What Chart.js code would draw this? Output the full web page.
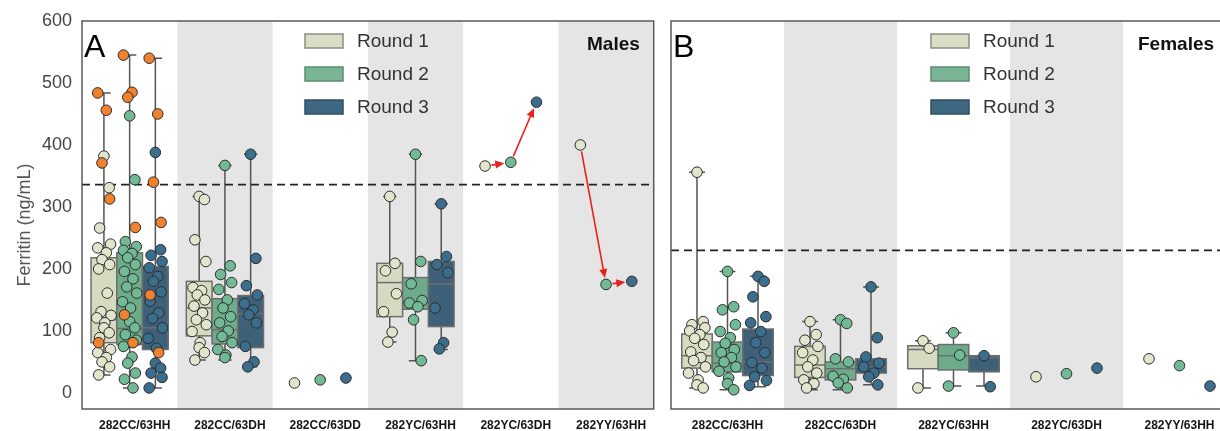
<!DOCTYPE html>
<html>
<head>
<meta charset="utf-8">
<title>Ferritin by HFE genotype and round</title>
<script src="https://cdn.jsdelivr.net/npm/chart.js@4.4.1/dist/chart.umd.min.js"></script>
<style>
  html, body { margin: 0; padding: 0; background: #fff; overflow: hidden; width: 1220px; height: 431px; }
  #wrapA { position: absolute; left: 0; top: 0; width: 660px; height: 431px; }
  #wrapB { position: absolute; left: 660px; top: 0; width: 600px; height: 431px; }
</style>
</head>
<body>
<div id="wrapA"><canvas id="chartA"></canvas></div>
<div id="wrapB"><canvas id="chartB"></canvas></div>
<script>
// ---------- data ----------
const maleGenotypes = ['282CC/63HH', '282CC/63DH', '282CC/63DD', '282YC/63HH', '282YC/63DH', '282YY/63HH'];
const femaleGenotypes = ['282CC/63HH', '282CC/63DH', '282YC/63HH', '282YC/63DH', '282YY/63HH'];
const roundNames = ['Round 1', 'Round 2', 'Round 3'];
const yTickValues = [0, 100, 200, 300, 400, 500, 600];
const maleCutoff = 336;
const femaleCutoff = 230;

// box summaries per genotype: [lower whisker, Q1, median, Q3, upper whisker]; null = no box
const maleBoxR1 = [[29, 81, 118, 218, 484], [53, 92, 137, 180, 317], null, [82, 123, 178, 209, 317], null, null];
const maleBoxR2 = [[8, 78, 104, 226, 545], [53, 79, 102, 152, 367], null, [52, 135, 146, 186, 385], null, null];
const maleBoxR3 = [[8, 70, 105, 204, 540], [42, 73, 128, 157, 385], null, [70, 107, 176, 212, 305], null, null];

const femaleBoxR1 = [[8, 40, 60, 95, 356], [5, 25, 45, 75, 115], [8, 39, 70, 76, 84], null, null];
const femaleBoxR2 = [[5, 34, 48, 82, 196], [5, 21, 39, 50, 118], [11, 37, 60, 78, 97], null, null];
const femaleBoxR3 = [[10, 28, 50, 103, 188], [13, 32, 42, 55, 171], [11, 34, 57, 60, 60], null, null];

// individual ferritin values (ng/mL) per genotype
const maleR1 = [
  [382, 331, 266, 240, 234, 226, 215, 207, 200, 161, 131, 125, 121, 113, 105, 97, 89, 70, 65, 57, 50, 42, 29],
  [317, 312, 247, 212, 170, 165, 158, 150, 140, 129, 118, 110, 99, 81, 73, 65, 53],
  [16],
  [317, 209, 197, 160, 131, 98, 82],
  [366],
  [400]
];
const maleR2 = [
  [447, 344, 244, 236, 230, 225, 218, 207, 196, 184, 171, 161, 147, 137, 115, 105, 94, 85, 75, 58, 48, 32, 22, 8],
  [367, 205, 191, 178, 167, 150, 137, 123, 113, 100, 91, 81, 70, 61, 57],
  [21],
  [385, 212, 176, 149, 145, 139, 118, 52],
  [372],
  [175]
];
const maleR3 = [
  [388, 231, 222, 212, 202, 188, 180, 163, 148, 129, 120, 105, 88, 72, 48, 40, 32, 25, 8],
  [385, 217, 173, 158, 144, 134, 126, 113, 75, 50, 42],
  [24],
  [305, 220, 207, 194, 137, 81, 71],
  [469],
  [180]
];
// participants flagged in the 282CC/63HH group
const maleFlaggedR1 = [[484, 456, 371, 313, 81], [], [], [], [], []];
const maleFlaggedR2 = [[545, 485, 477, 267, 126, 81], [], [], [], [], []];
const maleFlaggedR3 = [[540, 450, 340, 275, 158, 65], [], [], [], [], []];

const femaleR1 = [
  [356, 115, 110, 105, 100, 94, 88, 78, 66, 57, 52, 42, 32, 21, 13, 8],
  [115, 94, 85, 75, 65, 53, 42, 32, 21, 15, 8],
  [84, 72, 8],
  [26],
  [55]
];
const femaleR2 = [
  [196, 139, 134, 110, 99, 89, 80, 70, 65, 57, 50, 42, 35, 24, 15, 5],
  [118, 112, 55, 50, 27, 22, 16, 8],
  [97, 61, 11],
  [31],
  [44]
];
const femaleR3 = [
  [188, 180, 155, 123, 113, 99, 81, 65, 49, 40, 26, 20, 12],
  [171, 89, 58, 48, 42, 32, 26, 13],
  [60, 10],
  [40],
  [11]
];

// genotypes with a single participant, followed round to round
const maleTracked = [4, 5];
const femaleTracked = [];

// ---------- styling ----------
const FONT = '"Liberation Sans", Arial, Helvetica, sans-serif';
Chart.defaults.font.family = FONT;
const ROUND_OFFSET = [-0.27, 0, 0.27];
const BOX_WIDTH = 0.27;
const CAP_WIDTH = 0.14;
const POINT_FILL = ['#e1e5cb', '#72b995', '#3b6d8d'];
const BOX_FILL = ['#d6dac0', '#6dab8b', '#3e6179'];
const LEGEND_FILL = ['#dadec6', '#79b594', '#3e6782'];
const LEGEND_EDGE = ['#8c8e80', '#5a8c72', '#2f4e61'];
const FLAG_FILL = '#f0812e';
const SPREAD = [0, 0.055, -0.045, 0.07, -0.065, 0.025, -0.02, 0.06, -0.055, 0.035, -0.03, 0.075, -0.075, 0.01];

function jitteredPoints(groups, r, phase) {
  const out = [];
  groups.forEach((vals, i) => {
    vals.forEach((v, j) => {
      const dx = vals.length > 1 ? SPREAD[(j + phase) % SPREAD.length] : 0;
      out.push({ x: i + ROUND_OFFSET[r] + dx, y: v });
    });
  });
  return out;
}

function arrow(ctx, p0, p1, gap) {
  const dx = p1.x - p0.x, dy = p1.y - p0.y;
  const len = Math.hypot(dx, dy);
  const ux = dx / len, uy = dy / len;
  const sx = p0.x + ux * gap, sy = p0.y + uy * gap;
  const ex = p1.x - ux * gap, ey = p1.y - uy * gap;
  const head = 9, hw = 4;
  ctx.beginPath();
  ctx.moveTo(sx, sy);
  ctx.lineTo(ex - ux * head * 0.7, ey - uy * head * 0.7);
  ctx.stroke();
  ctx.beginPath();
  ctx.moveTo(ex, ey);
  ctx.lineTo(ex - ux * head - uy * hw, ey - uy * head + ux * hw);
  ctx.lineTo(ex - ux * head + uy * hw, ey - uy * head - ux * hw);
  ctx.closePath();
  ctx.fill();
}

function decorPlugin(cfg) {
  return {
    id: 'panelDecor',
    beforeDatasetsDraw(chart) {
      const { ctx, chartArea: a, scales: { x, y } } = chart;
      ctx.save();
      // alternate genotype bands
      ctx.fillStyle = '#e5e5e5';
      cfg.categories.forEach((c, i) => {
        if (i % 2 === 1) {
          const l = Math.max(x.getPixelForValue(i - 0.5), a.left);
          const r = Math.min(x.getPixelForValue(i + 0.5), a.right);
          ctx.fillRect(l, a.top, r - l, a.bottom - a.top);
        }
      });
      // box plots
      const half = (x.getPixelForValue(BOX_WIDTH) - x.getPixelForValue(0)) / 2;
      const cap = (x.getPixelForValue(CAP_WIDTH) - x.getPixelForValue(0)) / 2;
      cfg.boxes.forEach((roundBoxes, r) => {
        roundBoxes.forEach((b, i) => {
          if (!b) return;
          const [lo, q1, med, q3, hi] = b;
          const cx = x.getPixelForValue(i + ROUND_OFFSET[r]);
          ctx.strokeStyle = '#555';
          ctx.lineWidth = 1.5;
          ctx.beginPath();
          ctx.moveTo(cx, y.getPixelForValue(lo));
          ctx.lineTo(cx, y.getPixelForValue(hi));
          ctx.moveTo(cx - cap, y.getPixelForValue(lo));
          ctx.lineTo(cx + cap, y.getPixelForValue(lo));
          ctx.moveTo(cx - cap, y.getPixelForValue(hi));
          ctx.lineTo(cx + cap, y.getPixelForValue(hi));
          ctx.stroke();
          const top = y.getPixelForValue(q3), bot = y.getPixelForValue(q1);
          ctx.fillStyle = BOX_FILL[r];
          ctx.fillRect(cx - half, top, half * 2, bot - top);
          ctx.strokeStyle = '#6e6e6e';
          ctx.strokeRect(cx - half, top, half * 2, bot - top);
          ctx.beginPath();
          ctx.moveTo(cx - half, y.getPixelForValue(med));
          ctx.lineTo(cx + half, y.getPixelForValue(med));
          ctx.stroke();
        });
      });
      ctx.restore();
    },
    afterDatasetsDraw(chart) {
      const { ctx, chartArea: a, scales: { x, y } } = chart;
      ctx.save();
      // round-to-round arrows
      ctx.strokeStyle = '#e8211d';
      ctx.fillStyle = '#e8211d';
      ctx.lineWidth = 1.6;
      cfg.tracked.forEach(i => {
        const pts = cfg.rounds.map((groups, r) => ({
          x: x.getPixelForValue(i + ROUND_OFFSET[r]),
          y: y.getPixelForValue(groups[i][0])
        }));
        arrow(ctx, pts[0], pts[1], 6.5);
        arrow(ctx, pts[1], pts[2], 6.5);
      });
      // panel frame
      ctx.strokeStyle = '#5a5a5a';
      ctx.lineWidth = 1.5;
      ctx.strokeRect(a.left, a.top, a.right - a.left, a.bottom - a.top);
      // legend
      roundNames.forEach((name, r) => {
        const yc = cfg.legendY[r];
        ctx.fillStyle = LEGEND_FILL[r];
        ctx.fillRect(cfg.legendX, yc - 7, 38, 14);
        ctx.strokeStyle = LEGEND_EDGE[r];
        ctx.lineWidth = 1.5;
        ctx.strokeRect(cfg.legendX, yc - 7, 38, 14);
        ctx.fillStyle = '#333';
        ctx.font = '19px ' + FONT;
        ctx.textBaseline = 'middle';
        ctx.textAlign = 'left';
        ctx.fillText(name, cfg.legendX + 52, yc + 1);
      });
      // panel letter and sex label
      ctx.fillStyle = '#000';
      ctx.textBaseline = 'alphabetic';
      ctx.font = '32px ' + FONT;
      ctx.fillText(cfg.letter, cfg.letterX, 57);
      ctx.font = 'bold 19px ' + FONT;
      ctx.fillStyle = '#111';
      ctx.fillText(cfg.sex, cfg.sexX, 50);
      // y-axis title
      if (cfg.yTitle) {
        ctx.save();
        ctx.translate(25, 225);
        ctx.rotate(-Math.PI / 2);
        ctx.textAlign = 'center';
        ctx.textBaseline = 'middle';
        ctx.fillStyle = '#555';
        ctx.font = '18px ' + FONT;
        ctx.fillText(cfg.yTitle, 0, 0);
        ctx.restore();
      }
      ctx.restore();
    }
  };
}

function buildChart(canvasId, cfg) {
  const n = cfg.categories.length;
  const datasets = [];
  cfg.rounds.forEach((groups, r) => {
    datasets.push({
      type: 'scatter',
      data: jitteredPoints(groups, r, 0),
      backgroundColor: POINT_FILL[r],
      borderColor: '#2d2d2d',
      borderWidth: 1,
      pointRadius: 5.3,
      order: 3 - r
    });
  });
  cfg.flagged.forEach((groups, r) => {
    datasets.push({
      type: 'scatter',
      data: jitteredPoints(groups, r, 4),
      backgroundColor: FLAG_FILL,
      borderColor: '#2d2d2d',
      borderWidth: 1,
      pointRadius: 5.3,
      order: 0
    });
  });
  datasets.push({
    type: 'line',
    data: [{ x: -0.5, y: cfg.cutoff }, { x: n - 0.5, y: cfg.cutoff }],
    borderColor: '#222',
    borderWidth: 1.8,
    borderDash: [8, 5],
    pointRadius: 0,
    fill: false,
    order: 10
  });

  return new Chart(document.getElementById(canvasId), {
    type: 'scatter',
    data: { datasets },
    options: {
      responsive: true,
      maintainAspectRatio: false,
      animation: false,
      events: [],
      layout: { padding: cfg.padding },
      plugins: { legend: { display: false }, tooltip: { enabled: false } },
      scales: {
        x: {
          type: 'linear',
          min: -0.5,
          max: n - 0.5,
          afterBuildTicks: s => { s.ticks = cfg.categories.map((_, i) => ({ value: i })); },
          afterFit: s => { s.height = 22; },
          ticks: {
            autoSkip: false,
            maxRotation: 0,
            padding: 9,
            labelOffset: cfg.labelOffset,
            color: '#151515',
            font: { size: 12, weight: 'bold', family: FONT },
            callback: v => cfg.categories[v]
          },
          grid: { display: false, drawTicks: false },
          border: { display: false }
        },
        y: {
          display: cfg.showY,
          min: -26,
          max: 600,
          afterBuildTicks: s => { s.ticks = yTickValues.map(v => ({ value: v })); },
          afterFit: s => { s.width = cfg.showY ? 82 : 0; },
          ticks: { padding: 10, color: '#444', font: { size: 18, family: FONT } },
          grid: { display: false, drawTicks: false },
          border: { display: false }
        }
      }
    },
    plugins: [decorPlugin(cfg)]
  });
}

buildChart('chartA', {
  categories: maleGenotypes,
  boxes: [maleBoxR1, maleBoxR2, maleBoxR3],
  rounds: [maleR1, maleR2, maleR3],
  flagged: [maleFlaggedR1, maleFlaggedR2, maleFlaggedR3],
  tracked: maleTracked,
  cutoff: maleCutoff,
  showY: true,
  yTitle: 'Ferritin (ng/mL)',
  padding: { left: 0, right: 3, top: 21, bottom: 0 },
  labelOffset: 5,
  legendX: 305,
  legendY: [41, 74, 107],
  letter: 'A',
  letterX: 84,
  sex: 'Males',
  sexX: 587
});

buildChart('chartB', {
  categories: femaleGenotypes,
  boxes: [femaleBoxR1, femaleBoxR2, femaleBoxR3],
  rounds: [femaleR1, femaleR2, femaleR3],
  flagged: [],
  tracked: femaleTracked,
  cutoff: femaleCutoff,
  showY: false,
  yTitle: null,
  padding: { left: 11, right: 24, top: 21, bottom: 0 },
  labelOffset: 0,
  legendX: 271,
  legendY: [41, 74, 107],
  letter: 'B',
  letterX: 13,
  sex: 'Females',
  sexX: 478
});
</script>
</body>
</html>
